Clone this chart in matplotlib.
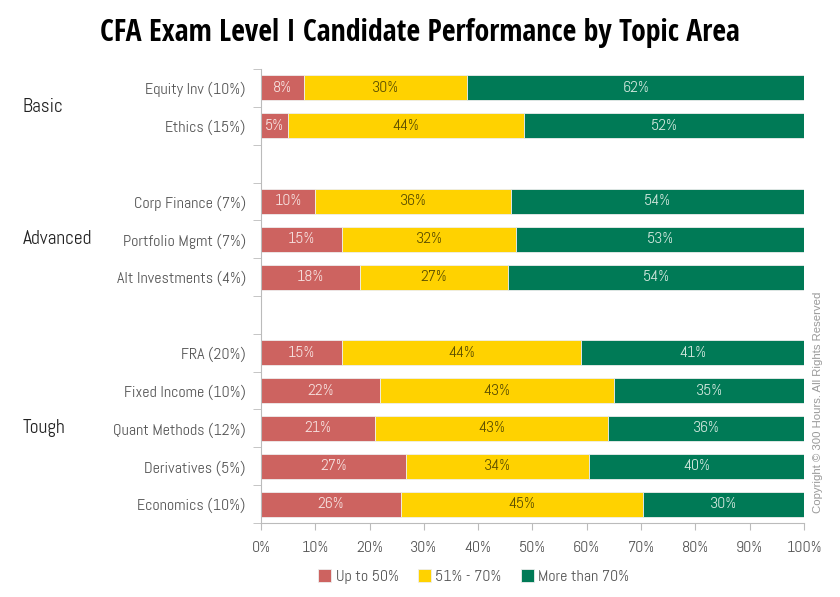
import numpy as np
import matplotlib.pyplot as plt

topics = ['Equity Inv (10%)', 'Ethics (15%)', 'Corp Finance (7%)', 'Portfolio Mgmt (7%)',
          'Alt Investments (4%)', 'FRA (20%)', 'Fixed Income (10%)', 'Quant Methods (12%)',
          'Derivatives (5%)', 'Economics (10%)']
slots = [0, 1, 3, 4, 5, 7, 8, 9, 10, 11]
low = [8, 5, 10, 15, 18, 15, 22, 21, 27, 26]
mid = [30, 44, 36, 32, 27, 44, 43, 43, 34, 45]
high = [62, 52, 54, 53, 54, 41, 35, 36, 40, 30]
series = ['Up to 50%', '51% - 70%', 'More than 70%']
groups = ['Basic', 'Advanced', 'Tough']
group_pos = [0.5, 4, 9]

plt.rcParams['font.family'] = ['Abel', 'DejaVu Sans']

colors = ['#CD6360', '#FFD200', '#007A56']
txt_colors = ['#F6E0DE', '#5E5000', '#CFE6DC']

# bars are drawn as shares of each row's total (rounded labels don't always add to 100)
vals = np.array([low, mid, high], dtype=float)
frac = vals / vals.sum(axis=0) * 100

fig = plt.figure(figsize=(8.4, 5.97), dpi=100)
ax = fig.add_axes([0.3107, 0.124, 0.6464, 0.7604])

left = np.zeros(len(topics))
for i in range(3):
    bars = ax.barh(slots, frac[i], left=left, height=0.66, color=colors[i],
                   edgecolor='#eeeeee', linewidth=0.6, label=series[i])
    ax.bar_label(bars, labels=[f'{v}%' for v in vals[i].astype(int)], label_type='center',
                 color=txt_colors[i], fontsize=11.5)
    left += frac[i]

ax.set_ylim(11.5, -0.5)
ax.set_xlim(0, 100)
ax.set_yticks(slots)
ax.set_yticklabels(topics, fontsize=11.5, color='#555555')
ax.tick_params(axis='y', length=0, pad=11)
ax.set_yticks(np.arange(-0.5, 12, 1), minor=True)
ax.tick_params(axis='y', which='minor', length=6, color='#bbbbbb', direction='out')
ax.set_xticks(np.arange(0, 101, 10))
ax.set_xticklabels([f'{t}%' for t in range(0, 101, 10)], fontsize=11.5, color='#555555')
ax.tick_params(axis='x', length=5, color='#bbbbbb', pad=8)
for s in ['top', 'right']:
    ax.spines[s].set_visible(False)
for s in ['left', 'bottom']:
    ax.spines[s].set_color('#bbbbbb')

for g, p in zip(groups, group_pos):
    ax.text(-0.439, p, g, transform=ax.get_yaxis_transform(), fontsize=14,
            color='#222222', va='center', ha='left')

fig.text(0.5, 0.945, 'CFA Exam Level I Candidate Performance by Topic Area',
         ha='center', va='center', fontsize=21.5, fontweight='bold', color='black',
         family='Open Sans Condensed')
fig.text(0.974, 0.326, 'Copyright \u00a9 300 Hours. All Rights Reserved', rotation=90,
         ha='center', va='center', fontsize=8.2, color='#999999', family='Liberation Sans')

fig.legend(loc='center', bbox_to_anchor=(0.564, 0.034), ncol=3, frameon=False,
           fontsize=11.5, handlelength=0.8, handleheight=0.8, handletextpad=0.3,
           columnspacing=1.2, labelcolor='#555555')

fig.savefig('out.png', dpi=100)
